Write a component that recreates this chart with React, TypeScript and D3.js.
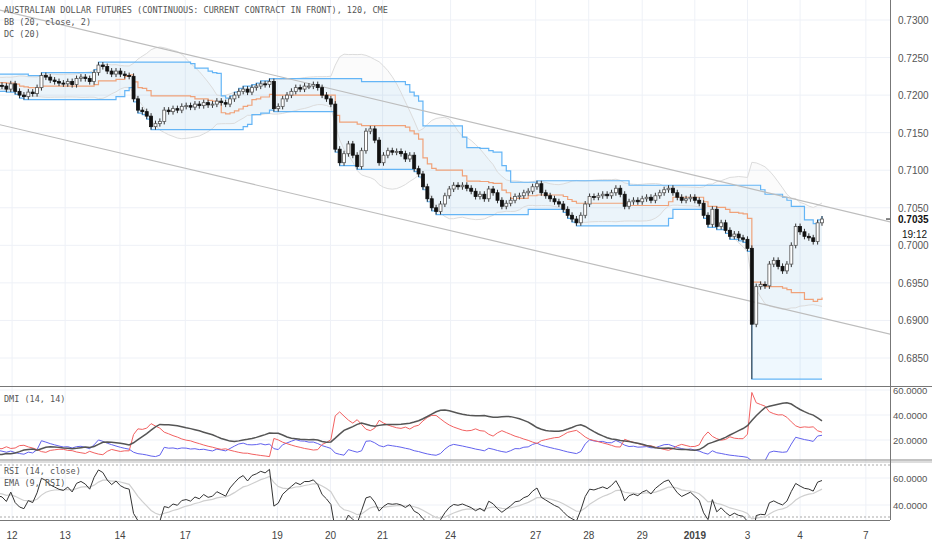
import React from "react";
import * as d3 from "d3";

const warmup = [0.7218,0.7222,0.7216,0.7212,0.7220,0.7225,0.7221,0.7215,0.7210,0.7214,0.7219,0.7223,0.7226,0.7220,0.7215,0.7211,0.7216,0.7222,0.7228,0.7224,0.7219,0.7214,0.7210,0.7213,0.7218,0.7224,0.7221,0.7217,0.7212,0.7209,0.7213,0.7218,0.7222,0.7219,0.7214,0.7211,0.7215,0.7219,0.7216,0.7213];
const closesVisible = [
0.7212,0.7208,0.7215,0.7205,0.7200,0.7198,0.7204,0.7202,0.7210,0.7226,
0.7224,0.7220,0.7218,0.7216,0.7215,0.7218,0.7214,0.7222,0.7224,0.7222,
0.7218,0.7230,0.7240,0.7238,0.7232,0.7228,0.7232,0.7228,0.7226,0.7225,
0.7195,0.7180,0.7178,0.7172,0.7158,0.7162,0.7165,0.7180,0.7178,0.7182,
0.7180,0.7185,0.7186,0.7184,0.7188,0.7186,0.7190,0.7187,0.7188,0.7192,
0.7190,0.7188,0.7195,0.7200,0.7205,0.7208,0.7204,0.7210,0.7212,0.7215,
0.7214,0.7218,0.7182,0.7185,0.7195,0.7200,0.7205,0.7210,0.7208,0.7212,
0.7212,0.7214,0.7210,0.7200,0.7195,0.7188,0.7128,0.7110,0.7122,0.7135,
0.7120,0.7105,0.7126,0.7152,0.7155,0.7140,0.7110,0.7120,0.7126,0.7124,
0.7125,0.7122,0.7115,0.7120,0.7102,0.7095,0.7078,0.7062,0.7050,0.7045,
0.7055,0.7066,0.7075,0.7080,0.7078,0.7080,0.7076,0.7072,0.7065,0.7068,
0.7062,0.7075,0.7070,0.7060,0.7052,0.7056,0.7060,0.7065,0.7066,0.7070,
0.7072,0.7078,0.7082,0.7070,0.7066,0.7062,0.7058,0.7055,0.7048,0.7040,
0.7035,0.7030,0.7040,0.7055,0.7065,0.7064,0.7066,0.7068,0.7066,0.7070,
0.7076,0.7068,0.7052,0.7058,0.7060,0.7058,0.7062,0.7064,0.7060,0.7066,
0.7070,0.7074,0.7076,0.7070,0.7064,0.7060,0.7062,0.7064,0.7060,0.7056,
0.7040,0.7028,0.7048,0.7025,0.7030,0.7020,0.7012,0.7015,0.7010,0.7008,
0.6996,0.6895,0.6945,0.6948,0.6946,0.6975,0.6980,0.6972,0.6966,0.6975,
0.7000,0.7025,0.7018,0.7012,0.7010,0.7005,0.7030,0.7035];
const lowOverrides: Record<number, number> = { 171: 0.6822 };
const wick = 0.0004;

const dayTicks: [number, string][] = [[2.3,"12"],[14.4,"13"],[26.9,"14"],[41.8,"17"],[62.8,"19"],[74.9,"20"],[86.8,"21"],[102.3,"24"],[121.7,"27"],[133.8,"28"],[146,"29"],[158,"2019"],[170,"3"],[182,"4"],[197,"7"]];
const priceTicks = [0.73,0.725,0.72,0.715,0.71,0.705,0.70,0.695,0.69,0.685];
const dmiTicks = [60,40,20];
const rsiTicks = [60,40];
const trendUpper: [number, number][] = [[-0.5, 0.73133],[212.3, 0.70177]];
const trendLower: [number, number][] = [[-0.5, 0.71606],[212.3, 0.68684]];

const W = 932, AX = 890;
const N0 = warmup.length;
const closes = [...warmup, ...closesVisible];
const candles = closes.map((c, i) => {
  const o = i === 0 ? c : closes[i - 1];
  const v = i - N0;
  const low = lowOverrides[v] ?? Math.min(o, c) - wick;
  return { v, o, c, h: Math.max(o, c) + wick, l: low };
});

function sma(a: number[], n: number, i: number) { let s = 0; for (let k = i - n + 1; k <= i; k++) s += a[k]; return s / n; }
const bb = candles.map((_, i) => {
  if (i < 19) return null;
  const m = sma(closes, 20, i);
  let v = 0; for (let k = i - 19; k <= i; k++) v += (closes[k] - m) ** 2;
  const sd = Math.sqrt(v / 20);
  return { m, u: m + 2 * sd, d: m - 2 * sd };
});
const dc = candles.map((_, i) => {
  if (i < 19) return null;
  const sl = candles.slice(i - 19, i + 1);
  const u = d3.max(sl, d => d.h)!, d = d3.min(sl, d => d.l)!;
  return { u, d, m: (u + d) / 2 };
});
const rsi: (number | null)[] = []; let ag = 0, al = 0;
for (let i = 0; i < closes.length; i++) {
  if (i === 0) { rsi.push(null); continue; }
  const ch = closes[i] - closes[i - 1]; const g = Math.max(ch, 0), l = Math.max(-ch, 0);
  if (i <= 14) { ag += g / 14; al += l / 14; rsi.push(i === 14 ? 100 - 100 / (1 + ag / (al || 1e-9)) : null); continue; }
  ag = (ag * 13 + g) / 14; al = (al * 13 + l) / 14; rsi.push(100 - 100 / (1 + ag / (al || 1e-9)));
}
const rsiEma: (number | null)[] = []; let e: number | null = null;
rsi.forEach(r => { if (r == null) { rsiEma.push(null); return; } e = e == null ? r : e + (r - e) * 0.2; rsiEma.push(e); });
const dip: (number | null)[] = [], dim: (number | null)[] = [], adx: (number | null)[] = [];
let sTR = 0, sP = 0, sM = 0, sADX: number | null = null, dxCount = 0, dxSum = 0;
for (let i = 0; i < candles.length; i++) {
  if (i === 0) { dip.push(null); dim.push(null); adx.push(null); continue; }
  const c = candles[i], p = candles[i - 1];
  const up = c.h - p.h, dn = p.l - c.l;
  const pdm = up > dn && up > 0 ? up : 0, mdm = dn > up && dn > 0 ? dn : 0;
  const tr = Math.max(c.h - c.l, Math.abs(c.h - p.c), Math.abs(c.l - p.c));
  sTR = sTR - sTR / 14 + tr; sP = sP - sP / 14 + pdm; sM = sM - sM / 14 + mdm;
  if (i < 14) { dip.push(null); dim.push(null); adx.push(null); continue; }
  const a = 100 * sP / sTR, b = 100 * sM / sTR; dip.push(a); dim.push(b);
  const dx = 100 * Math.abs(a - b) / ((a + b) || 1);
  if (sADX == null) { dxSum += dx; dxCount++; if (dxCount === 14) sADX = dxSum / 14; adx.push(sADX); }
  else { sADX = (sADX * 13 + dx) / 14; adx.push(sADX); }
}

const x = d3.scaleLinear().domain([0, 187]).range([2, 822]);
const y = d3.scaleLinear().domain([0.73, 0.685]).range([20, 358]);
const yD = d3.scaleLinear().domain([60, 20]).range([390, 440]);
const yR = d3.scaleLinear().domain([60, 40]).range([478, 505]);

const vis = (v: number) => v >= -3;
function path(vals: (number | null)[], ys: d3.ScaleLinear<number, number>) {
  return d3.line<number | null>().defined((d, i) => d != null && vis(i - N0)).x((_, i) => x(i - N0)).y(d => ys(d as number))(vals) || "";
}

export default function App() {
  const bw = 3;
  const def = (d: any, i: number) => d != null && vis(i - N0);
  const xi = (_: any, i: number) => x(i - N0);
  const dcArea = d3.area<any>().defined(def).x(xi).y0(d => y(d.d)).y1(d => y(d.u)).curve(d3.curveStepAfter)(dc) || "";
  const dcU = d3.line<any>().defined(def).x(xi).y(d => y(d.u)).curve(d3.curveStepAfter)(dc) || "";
  const dcD = d3.line<any>().defined(def).x(xi).y(d => y(d.d)).curve(d3.curveStepAfter)(dc) || "";
  const dcM = d3.line<any>().defined(def).x(xi).y(d => y(d.m)).curve(d3.curveStepAfter)(dc) || "";
  const bbArea = d3.area<any>().defined(def).x(xi).y0(d => y(d.d)).y1(d => y(d.u))(bb) || "";
  const bbU = d3.line<any>().defined(def).x(xi).y(d => y(d.u))(bb) || "";
  const bbD = d3.line<any>().defined(def).x(xi).y(d => y(d.d))(bb) || "";
  const font = "'DejaVu Sans Mono', monospace";
  const last = closesVisible[closesVisible.length - 1];
  return (
    <svg width={W} height={550} style={{ position: "absolute", left: 0, top: 0, background: "#fff" }}>
      <defs>
        <clipPath id="cm"><rect x={0} y={0} width={AX} height={386} /></clipPath>
        <clipPath id="cd"><rect x={0} y={388} width={AX} height={72} /></clipPath>
        <clipPath id="cr"><rect x={0} y={462} width={AX} height={58} /></clipPath>
      </defs>
      {dayTicks.map(([v, t]) => <line key={t} x1={x(v)} x2={x(v)} y1={0} y2={520} stroke="#eef1f7" />)}
      {priceTicks.map(p => <line key={p} x1={0} x2={AX} y1={y(p)} y2={y(p)} stroke="#eef1f7" />)}
      {dmiTicks.map(p => <line key={p} x1={0} x2={AX} y1={yD(p)} y2={yD(p)} stroke="#eef1f7" />)}
      {rsiTicks.map(p => <line key={p} x1={0} x2={AX} y1={yR(p)} y2={yR(p)} stroke="#eef1f7" />)}
      <g clipPath="url(#cm)">
        <path d={dcArea} fill="rgba(33,150,243,0.07)" />
        <path d={bbArea} fill="rgba(180,180,180,0.06)" />
        <path d={bbU} fill="none" stroke="#dcdcdc" strokeWidth={1} />
        <path d={bbD} fill="none" stroke="#dcdcdc" strokeWidth={1} />
        <path d={dcU} fill="none" stroke="#64b5f6" strokeWidth={1.2} />
        <path d={dcD} fill="none" stroke="#64b5f6" strokeWidth={1.2} />
        <path d={dcM} fill="none" stroke="#f0a27a" strokeWidth={1.2} />
        {[trendUpper, trendLower].map((t, k) => <line key={k} x1={x(t[0][0])} y1={y(t[0][1])} x2={x(t[1][0])} y2={y(t[1][1])} stroke="#bdbdbd" strokeWidth={1.2} />)}
        {candles.filter(c => vis(c.v)).map(c => {
          const up = c.c >= c.o; const cx = x(c.v);
          const top = y(Math.max(c.o, c.c)), bot = y(Math.min(c.o, c.c));
          return <g key={c.v}>
            <line x1={cx} x2={cx} y1={y(c.h)} y2={y(c.l)} stroke="#333" strokeWidth={1} />
            <rect x={cx - bw / 2} y={top} width={bw} height={Math.max(bot - top, 1)} fill={up ? "#fff" : "#111"} stroke={up ? "#555" : "#111"} strokeWidth={0.8} />
          </g>;
        })}
      </g>
      <g clipPath="url(#cd)">
        <path d={path(dip, yD)} fill="none" stroke="#6262ee" strokeWidth={1} />
        <path d={path(dim, yD)} fill="none" stroke="#f26161" strokeWidth={1} />
        <path d={path(adx, yD)} fill="none" stroke="#555" strokeWidth={1.5} />
      </g>
      <g clipPath="url(#cr)">
        <line x1={0} x2={AX} y1={465} y2={465} stroke="#aaa" strokeDasharray="2,2" />
        <line x1={0} x2={AX} y1={517} y2={517} stroke="#aaa" strokeDasharray="2,2" />
        <path d={path(rsiEma, yR)} fill="none" stroke="#cfcfcf" strokeWidth={1.2} />
        <path d={path(rsi, yR)} fill="none" stroke="#333" strokeWidth={1} />
      </g>
      <line x1={0} x2={W} y1={386.5} y2={386.5} stroke="#777" strokeWidth={1.2} />
      <line x1={0} x2={W} y1={460} y2={460} stroke="#888" strokeWidth={1.2} />
      <line x1={0} x2={W} y1={462} y2={462} stroke="#bbb" strokeWidth={1} />
      <line x1={0} x2={AX} y1={520.5} y2={520.5} stroke="#777" />
      <line x1={AX + 0.5} x2={AX + 0.5} y1={0} y2={520} stroke="#777" />
      <g fontFamily="'Liberation Sans', Arial, sans-serif" fontSize={10} fill="#555">
        {priceTicks.map(p => <text key={p} x={AX + 8} y={y(p) + 4}>{p.toFixed(4)}</text>)}
        {dmiTicks.map(p => <text key={p} x={AX + 3} y={yD(p) + 4} fontSize={9.5}>{p.toFixed(4)}</text>)}
        {rsiTicks.map(p => <text key={p} x={AX + 3} y={yR(p) + 4} fontSize={9.5}>{p.toFixed(4)}</text>)}
        <text x={AX + 8} y={y(last) + 4} fill="#111" fontWeight="bold">{last.toFixed(4)}</text>
        <text x={AX + 12} y={y(last) + 19} fill="#111">19:12</text>
        {dayTicks.map(([v, t]) => <text key={t} x={x(v)} y={539} textAnchor="middle" fontWeight={t === "2019" ? "bold" : "normal"} fill="#444">{t}</text>)}
      </g>
      <line x1={AX - 4} x2={AX} y1={y(last)} y2={y(last)} stroke="#111" />
      <g fontFamily={font} fontSize={8.5} fill="#555">
        <text x={4} y={13}>AUSTRALIAN DOLLAR FUTURES (CONTINUOUS: CURRENT CONTRACT IN FRONT), 120, CME</text>
        <text x={4} y={25}>BB (20, close, 2)</text>
        <text x={4} y={37}>DC (20)</text>
        <text x={4} y={402}>DMI (14, 14)</text>
        <text x={4} y={474}>RSI (14, close)</text>
        <text x={4} y={486}>EMA (9, RSI)</text>
      </g>
    </svg>
  );
}
